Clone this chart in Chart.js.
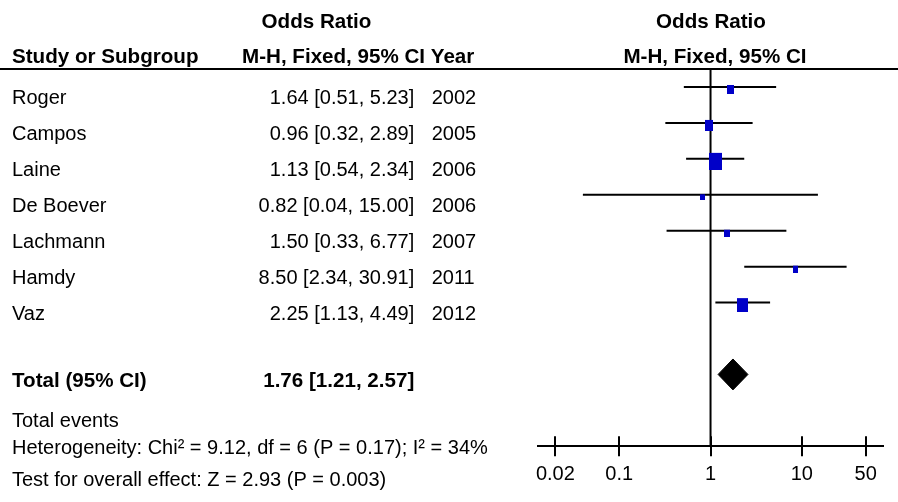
<!DOCTYPE html>
<html>
<head>
<meta charset="utf-8">
<script src="https://cdn.jsdelivr.net/npm/chart.js@4.4.1/dist/chart.umd.min.js"></script>
<style>
  html, body { margin: 0; padding: 0; background: #fff; }
  canvas { display: block; }
</style>
</head>
<body>
<canvas id="forest" width="898" height="502"></canvas>
<script>
// Study-level odds ratios (M-H, fixed effect, 95% CI)
const studies   = ['Roger', 'Campos', 'Laine', 'De Boever', 'Lachmann', 'Hamdy', 'Vaz'];
const years     = [2002, 2005, 2006, 2006, 2007, 2011, 2012];
const oddsRatio = [1.64, 0.96, 1.13, 0.82, 1.50, 8.50, 2.25];
const ciLower   = [0.51, 0.32, 0.54, 0.04, 0.33, 2.34, 1.13];
const ciUpper   = [5.23, 2.89, 2.34, 15.00, 6.77, 30.91, 4.49];

// Pooled estimate
const pooledOR    = 1.76;
const pooledLower = 1.21;
const pooledUpper = 2.57;

const axisTicks = [0.02, 0.1, 1, 10, 50];

const totalLabel        = 'Total (95% CI)';
const eventsLabel       = 'Total events';
const heterogeneityText = 'Heterogeneity: Chi\u00B2 = 9.12, df = 6 (P = 0.17); I\u00B2 = 34%';
const overallEffectText = 'Test for overall effect: Z = 2.93 (P = 0.003)';

// ---- styling ----
const BLUE = '#0000C8';
const FAMILY = '"Liberation Sans", Arial, Helvetica, sans-serif';
const REG = '20px ' + FAMILY;
const BOLD = 'bold 20.6px ' + FAMILY;
const boxW = [7, 8, 13, 5, 6, 5, 11];   // weight boxes, px
const boxH = [9, 11, 17, 6, 7, 7, 14];
const DIAMOND_HALF = 0.43;              // half height of pooled diamond, in rows
const TOTAL_ROW = studies.length + 1;

const fmt = v => v.toFixed(2);
const ciText = (m, l, u) => `${fmt(m)} [${fmt(l)}, ${fmt(u)}]`;

function weightBox(w, h) {
  const c = document.createElement('canvas');
  c.width = w;
  c.height = h + 5;
  const g = c.getContext('2d');
  g.fillStyle = BLUE;
  g.fillRect(0, 5, w, h);
  return c;
}

const datasets = [];

// weight boxes (drawn on top)
datasets.push({
  data: studies.map((s, i) => ({ x: oddsRatio[i], y: i })),
  showLine: false,
  pointStyle: studies.map((s, i) => weightBox(boxW[i], boxH[i])),
  pointRadius: 5,
  borderWidth: 0
});

// confidence interval lines
studies.forEach((s, i) => {
  datasets.push({
    data: [{ x: ciLower[i], y: i }, { x: ciUpper[i], y: i }],
    borderColor: '#000',
    borderWidth: 2,
    pointRadius: 0,
    fill: false
  });
});

// pooled diamond: upper half filled down to lower half
datasets.push({
  data: [{ x: pooledLower, y: TOTAL_ROW }, { x: pooledOR, y: TOTAL_ROW - DIAMOND_HALF }, { x: pooledUpper, y: TOTAL_ROW }],
  borderColor: '#000', borderWidth: 1, backgroundColor: '#000',
  pointRadius: 0, fill: '+1', tension: 0
});
datasets.push({
  data: [{ x: pooledLower, y: TOTAL_ROW }, { x: pooledOR, y: TOTAL_ROW + DIAMOND_HALF }, { x: pooledUpper, y: TOTAL_ROW }],
  borderColor: '#000', borderWidth: 1, backgroundColor: '#000',
  pointRadius: 0, fill: false, tension: 0
});

// line of no effect
datasets.push({
  data: [{ x: 1, y: -0.5 }, { x: 1, y: 10 }],
  borderColor: '#000', borderWidth: 2, pointRadius: 0, fill: false
});

const tablePlugin = {
  id: 'forestTable',
  afterDraw(chart) {
    const ctx = chart.ctx;
    const ys = chart.scales.y;
    const xs = chart.scales.x;
    const area = chart.chartArea;
    ctx.save();

    // upward half of the axis tick marks
    ctx.strokeStyle = '#000';
    ctx.lineWidth = 2;
    axisTicks.forEach(v => {
      const px = Math.round(xs.getPixelForValue(v));
      ctx.beginPath();
      ctx.moveTo(px, area.bottom - 10);
      ctx.lineTo(px, area.bottom);
      ctx.stroke();
    });

    // header rule
    ctx.fillStyle = '#000';
    ctx.fillRect(0, 68, chart.width, 2);

    ctx.textBaseline = 'alphabetic';
    // headers
    ctx.font = BOLD;
    ctx.textAlign = 'center';
    ctx.fillText('Odds Ratio', 316.5, 27.5);
    ctx.fillText('Odds Ratio', 711, 27.5);
    ctx.fillText('M-H, Fixed, 95% CI', 715, 63);
    ctx.textAlign = 'left';
    ctx.fillText('Study or Subgroup', 12, 63);
    ctx.fillText('M-H, Fixed, 95% CI Year', 242, 63);

    // study rows
    ctx.font = REG;
    studies.forEach((s, i) => {
      const base = ys.getPixelForValue(i) + 17.3;
      ctx.textAlign = 'left';
      ctx.fillText(s, 12, base);
      ctx.fillText(String(years[i]), 431.7, base);
      ctx.textAlign = 'right';
      ctx.fillText(ciText(oddsRatio[i], ciLower[i], ciUpper[i]), 414.3, base);
    });

    // total row
    const tBase = ys.getPixelForValue(TOTAL_ROW) + 13;
    ctx.font = BOLD;
    ctx.textAlign = 'left';
    ctx.fillText(totalLabel, 12, tBase);
    ctx.textAlign = 'right';
    ctx.fillText(ciText(pooledOR, pooledLower, pooledUpper), 414.3, tBase);

    // footer
    ctx.font = REG;
    ctx.textAlign = 'left';
    ctx.fillText(eventsLabel, 12, 426.5);
    ctx.fillText(heterogeneityText, 12, 454.3);
    ctx.fillText(overallEffectText, 12, 486);
    ctx.restore();
  }
};

new Chart(document.getElementById('forest'), {
  type: 'line',
  data: { datasets },
  plugins: [tablePlugin],
  options: {
    responsive: false,
    animation: false,
    events: [],
    layout: { padding: { left: 537.7, right: 14.7, top: 69, bottom: 0 } },
    plugins: { legend: { display: false }, tooltip: { enabled: false } },
    scales: {
      x: {
        type: 'logarithmic',
        min: 0.0128,
        max: 78,
        afterBuildTicks: s => { s.ticks = axisTicks.map(v => ({ value: v })); },
        afterFit: s => { s.height = 55.7; },
        border: { display: true, color: '#000', width: 2 },
        grid: { display: true, drawOnChartArea: false, drawTicks: true, tickLength: 10, color: '#000', lineWidth: 2 },
        ticks: {
          color: '#000',
          font: { family: FAMILY, size: 20 },
          padding: 6,
          maxRotation: 0,
          autoSkip: false,
          callback: v => String(v)
        }
      },
      y: {
        type: 'linear',
        min: -0.5,
        max: 10,
        reverse: true,
        display: false
      }
    }
  }
});
</script>
</body>
</html>
